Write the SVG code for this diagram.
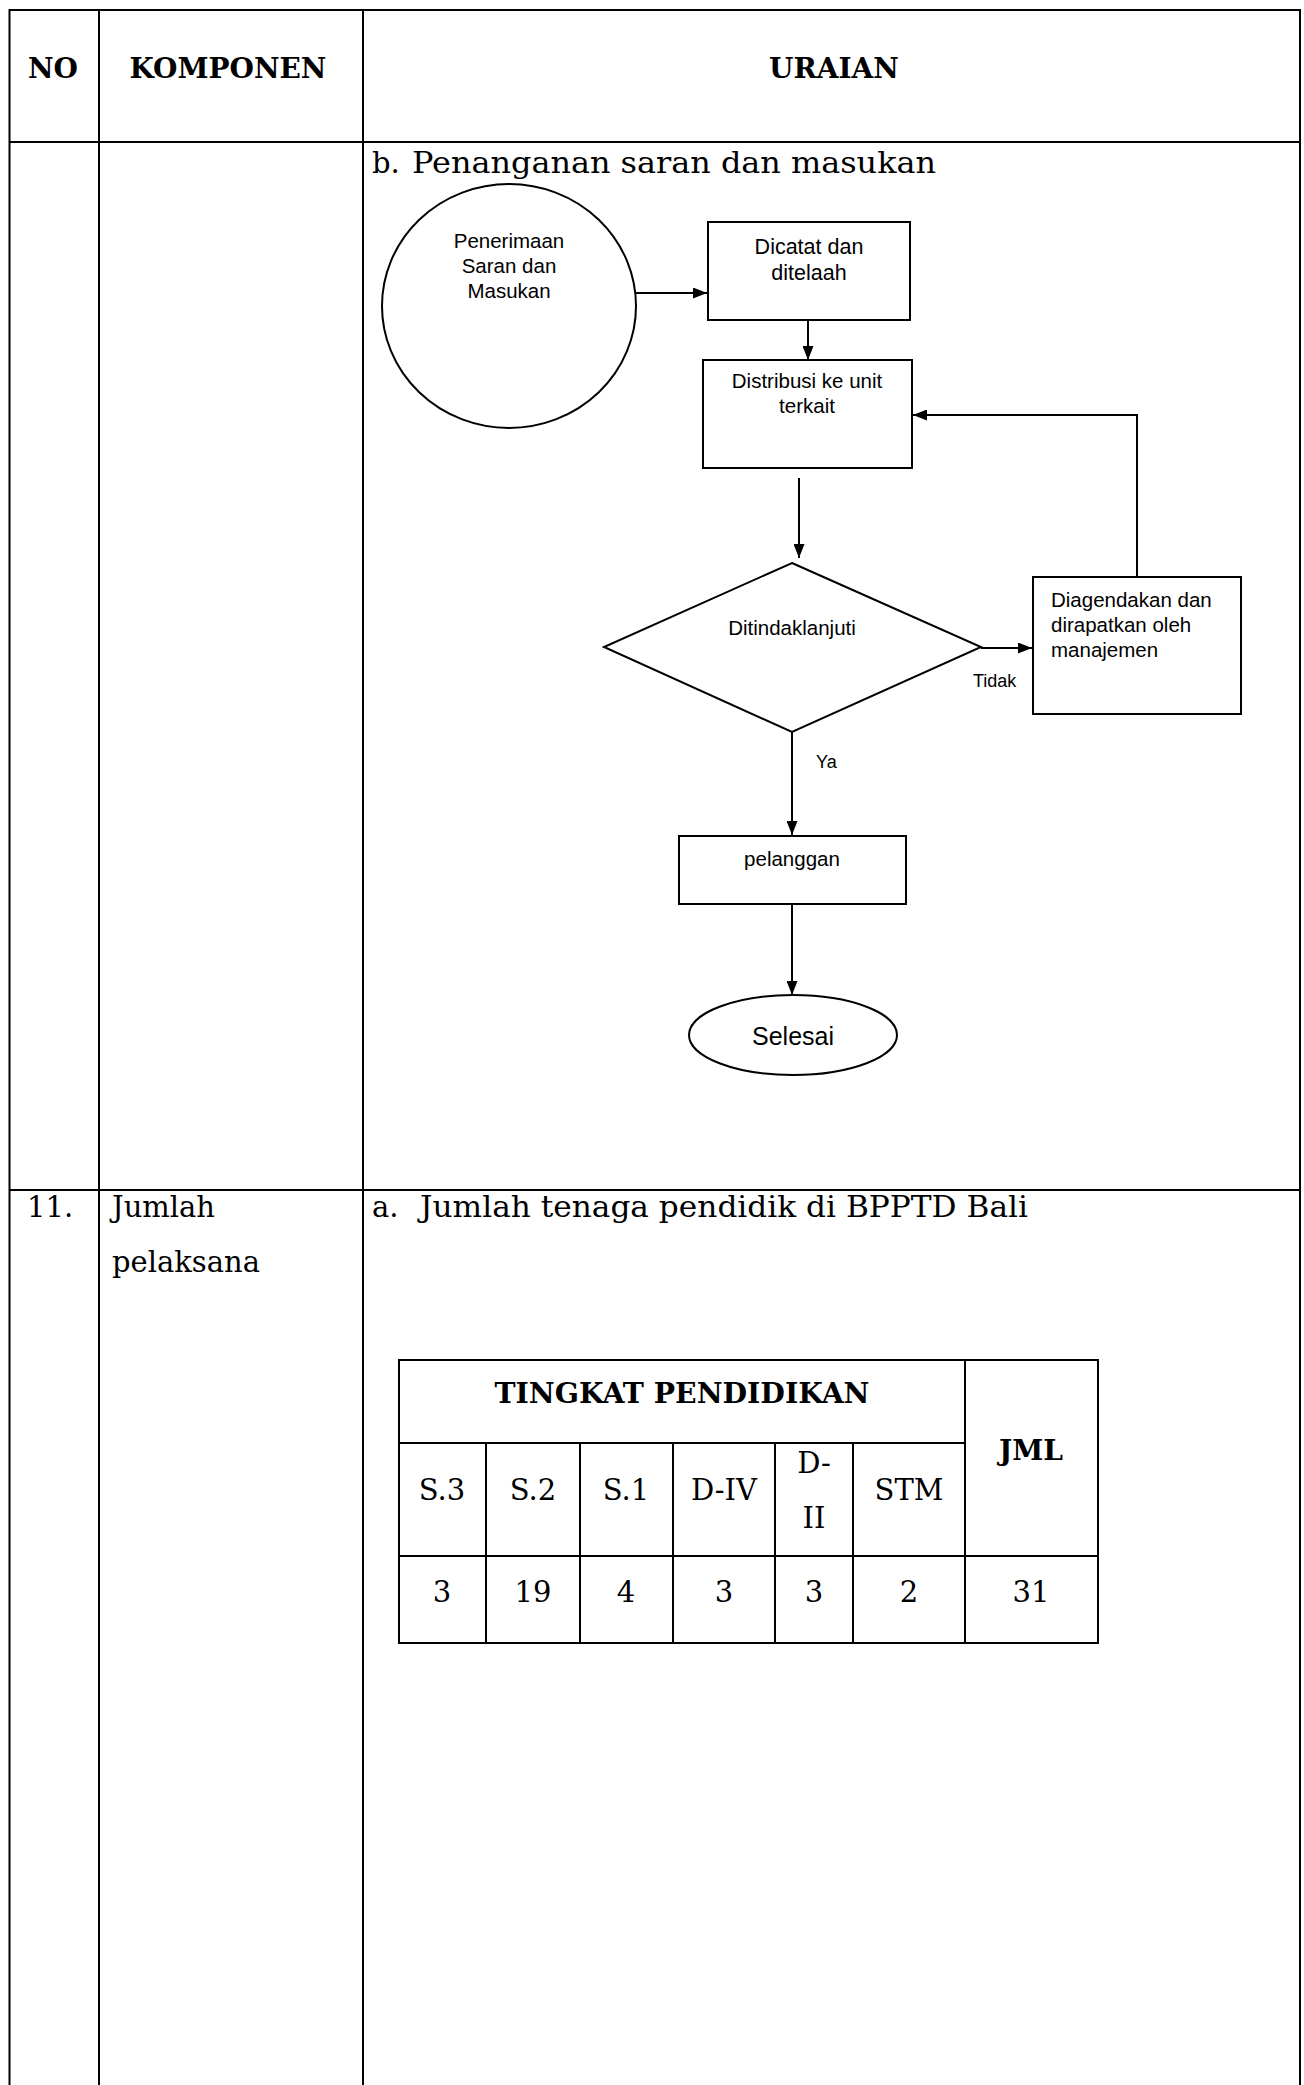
<svg xmlns="http://www.w3.org/2000/svg" width="1304" height="2085" viewBox="0 0 1304 2085">
<style>
.grid{stroke:#000;stroke-width:2;fill:none}
.shape{stroke:#000;stroke-width:2;fill:#fff}
.conn{stroke:#000;stroke-width:2;fill:none}
.hb{font-family:"DejaVu Serif",serif;font-weight:bold;font-size:28px;fill:#000}
.body{font-family:"DejaVu Serif",serif;font-size:29px;fill:#000}
.fc{font-family:"Liberation Sans",Arial,sans-serif;font-size:20.5px;fill:#000}
.c{text-anchor:middle}
</style>
<defs>
<marker id="ah" viewBox="0 0 14 11" refX="14" refY="5.5" markerWidth="14" markerHeight="11" markerUnits="userSpaceOnUse" orient="auto">
<path d="M0,0 L14,5.5 L0,11 z" fill="#000"/>
</marker>
</defs>
<rect width="1304" height="2085" fill="#fff"/>

<g id="main-table">
<path class="grid" d="M9.5,2085 V10 H1300 V2085 M99,10 V2085 M363,10 V2085 M9.5,142 H1300 M9.5,1190 H1300"/>
<text class="hb c" x="53" y="78">NO</text>
<text class="hb c" x="228" y="78">KOMPONEN</text>
<text class="hb c" x="834" y="78">URAIAN</text>
<text class="body" x="372" y="173">b.</text>
<text class="body" x="412" y="173" textLength="524" lengthAdjust="spacingAndGlyphs">Penanganan saran dan masukan</text>
<text class="body" x="27" y="1217">11.</text>
<text class="body" x="112" y="1217">Jumlah</text>
<text class="body" x="112" y="1272">pelaksana</text>
<text class="body" x="372" y="1217">a.</text>
<text class="body" x="420" y="1217" textLength="608" lengthAdjust="spacingAndGlyphs">Jumlah tenaga pendidik di BPPTD Bali</text>
</g>

<g id="node-penerimaan">
<ellipse class="shape" cx="509" cy="306" rx="127" ry="122"/>
<text class="fc c" x="509" y="248">Penerimaan</text>
<text class="fc c" x="509" y="273">Saran dan</text>
<text class="fc c" x="509" y="298">Masukan</text>
</g>

<g id="node-dicatat">
<rect class="shape" x="708" y="222" width="202" height="98"/>
<text class="fc c" x="809" y="254" style="font-size:21.5px">Dicatat dan</text>
<text class="fc c" x="809" y="280" style="font-size:21.5px">ditelaah</text>
</g>

<g id="node-distribusi">
<rect class="shape" x="703" y="360" width="209" height="108"/>
<text class="fc c" x="807" y="388">Distribusi ke unit</text>
<text class="fc c" x="807" y="413">terkait</text>
</g>

<g id="node-ditindaklanjuti">
<polygon class="shape" points="792,563 981,647 792,732 604,647"/>
<text class="fc c" x="792" y="635">Ditindaklanjuti</text>
</g>

<g id="node-diagendakan">
<rect class="shape" x="1033" y="577" width="208" height="137"/>
<text class="fc" x="1051" y="607">Diagendakan dan</text>
<text class="fc" x="1051" y="632">dirapatkan oleh</text>
<text class="fc" x="1051" y="657">manajemen</text>
</g>

<g id="node-pelanggan">
<rect class="shape" x="679" y="836" width="227" height="68"/>
<text class="fc c" x="792" y="866">pelanggan</text>
</g>

<g id="node-selesai">
<ellipse class="shape" cx="793" cy="1035" rx="104" ry="40"/>
<text class="fc c" x="793" y="1045" style="font-size:25px">Selesai</text>
</g>

<g id="connectors">
<path class="conn" d="M636,293 H707" marker-end="url(#ah)"/>
<path class="conn" d="M808,320 V360" marker-end="url(#ah)"/>
<path class="conn" d="M799,478 V558" marker-end="url(#ah)"/>
<path class="conn" d="M981,648 H1032" marker-end="url(#ah)"/>
<path class="conn" d="M1137,577 V415 H913" marker-end="url(#ah)"/>
<path class="conn" d="M792,732 V835" marker-end="url(#ah)"/>
<path class="conn" d="M792,904 V995" marker-end="url(#ah)"/>
<text class="fc" x="973" y="687" style="font-size:18px">Tidak</text>
<text class="fc" x="816" y="768" style="font-size:18px">Ya</text>
</g>

<g id="table-pendidikan">
<path class="grid" d="M399,1360 H1098 V1643 H399 Z M965,1360 V1643 M399,1443 H965 M399,1556 H1098 M486,1443 V1643 M580,1443 V1643 M673,1443 V1643 M775,1443 V1643 M853,1443 V1643"/>
<text class="hb c" x="682" y="1403" textLength="375" lengthAdjust="spacingAndGlyphs">TINGKAT PENDIDIKAN</text>
<text class="hb c" x="1031" y="1460">JML</text>
<text class="body c" x="442" y="1500">S.3</text>
<text class="body c" x="533" y="1500">S.2</text>
<text class="body c" x="626" y="1500">S.1</text>
<text class="body c" x="724" y="1500">D-IV</text>
<text class="body c" x="814" y="1473">D-</text>
<text class="body c" x="814" y="1528">II</text>
<text class="body c" x="909" y="1500">STM</text>
<text class="body c" x="442" y="1602">3</text>
<text class="body c" x="533" y="1602">19</text>
<text class="body c" x="626" y="1602">4</text>
<text class="body c" x="724" y="1602">3</text>
<text class="body c" x="814" y="1602">3</text>
<text class="body c" x="909" y="1602">2</text>
<text class="body c" x="1031" y="1602">31</text>
</g>
</svg>
